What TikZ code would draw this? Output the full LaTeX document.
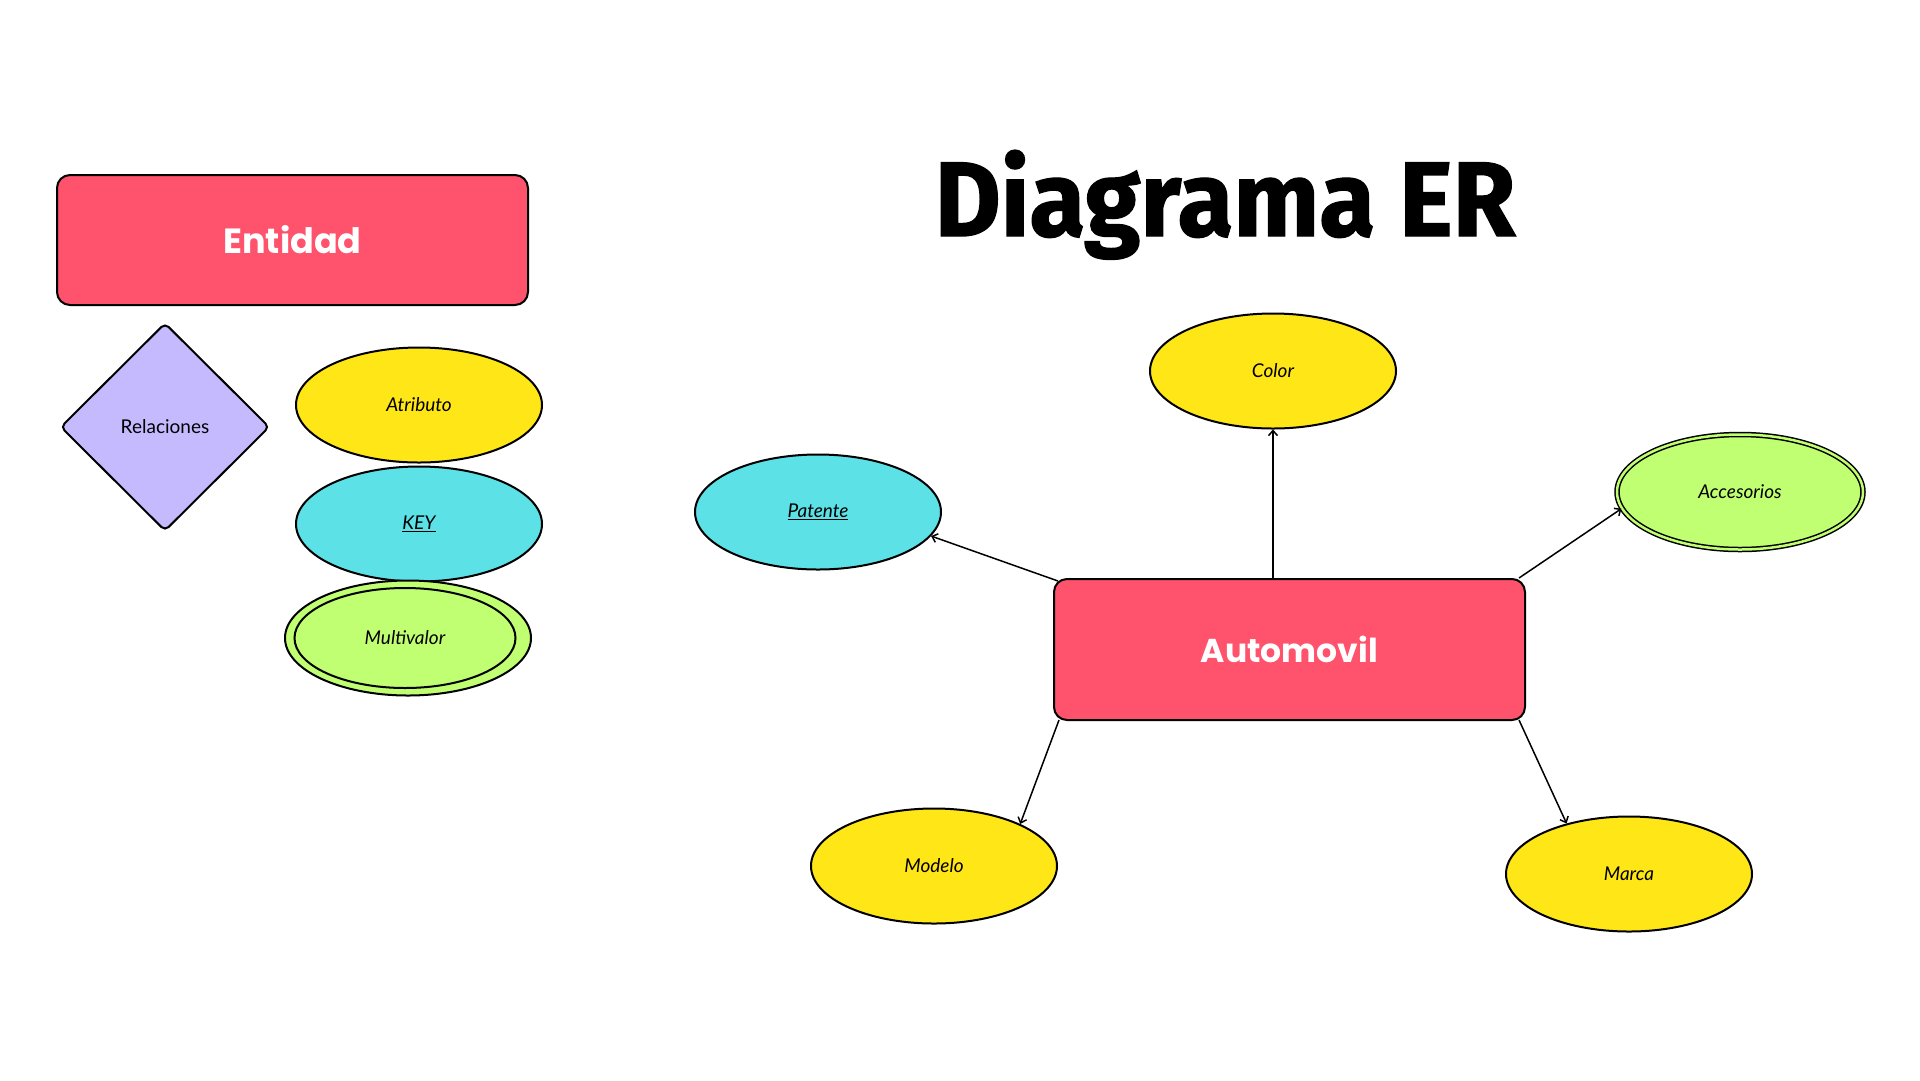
\documentclass[tikz,border=0pt]{standalone}
\usepackage{fontspec}
\setmainfont{Lato}
\newfontfamily\entfont{Poppins}
\newfontfamily\titlefont{Fira Sans}[BoldFeatures={FakeBold=1.2}]
\usetikzlibrary{shapes.geometric, arrows.meta, positioning}

\definecolor{entred}{HTML}{FF526C}
\definecolor{attyellow}{HTML}{FFE617}
\definecolor{keycyan}{HTML}{5CE1E6}
\definecolor{multigreen}{HTML}{C1FF72}
\definecolor{relpurple}{HTML}{C6BAFF}

\tikzset{
  entity/.style={draw, line width=2pt, rounded corners=13pt, fill=entred, text=white,
    minimum width=471pt, font=\entfont\bfseries\fontsize{33}{40}\selectfont},
  attrib/.style={draw, ellipse, line width=2pt, inner sep=0pt, minimum width=246pt,
    minimum height=115pt, fill=attyellow, font=\itshape\fontsize{19}{23}\selectfont},
  relation/.style={draw, diamond, line width=2pt, rounded corners=5pt, inner sep=0pt,
    fill=relpurple, font=\fontsize{19}{23}\selectfont},
  link/.style={-{Straight Barb[length=5pt,width=9pt]}, line width=1.5pt}
}

\begin{document}
\begin{tikzpicture}[x=1pt,y=-1pt]
    \useasboundingbox (0,0) rectangle (1920,1080);
    % legend
    \node[entity, minimum height=130pt, font=\entfont\bfseries\fontsize{35}{42}\selectfont] (ent) at (292.5,240) {Entidad};
    \node[relation, minimum width=209pt, minimum height=208pt] (rel) at (165,427) {Relaciones};
    \node[attrib] (atr) at (419,405) {Atributo};
    \node[attrib, fill=keycyan] (key) at (419,524) {\underline{KEY}};
    \node[attrib, fill=multigreen] (mv) at (408,638) {};
    \node[attrib, fill=none, minimum width=221pt, minimum height=100pt] (mvin) at (405,638) {Multivalor};
    % diagram
    \node[font=\titlefont\bfseries\fontsize{106}{120}\selectfont, anchor=base] (title) at (1225,236) {\scalebox{0.96}[1]{Diagrama ER}};
    \node[entity, minimum height=141pt] (auto) at (1289.5,649.5) {Automovil};
    \node[attrib] (col) at (1273,371) {Color};
    \node[attrib, fill=keycyan] (pat) at (818,512) {\underline{Patente}};
    \node[attrib, fill=multigreen, double=multigreen, double distance=2.5pt, line width=1.5pt] (acc) at (1740,492) {Accesorios};
    \node[attrib] (mod) at (934,866) {Modelo};
    \node[attrib] (mar) at (1629,874) {Marca};
    \draw[link] (col |- auto.north) -- (col);
    \draw[link] ([shift={(5,3)}]auto.north west) -- (pat.-12);
    \draw[link] ([shift={(-7,0)}]auto.north east) -- (acc.188);
    \draw[link] ([shift={(6,-1)}]auto.south west) -- (mod.26);
    \draw[link] ([shift={(-7,-1)}]auto.south east) -- (mar.141);
\end{tikzpicture}
\end{document}
